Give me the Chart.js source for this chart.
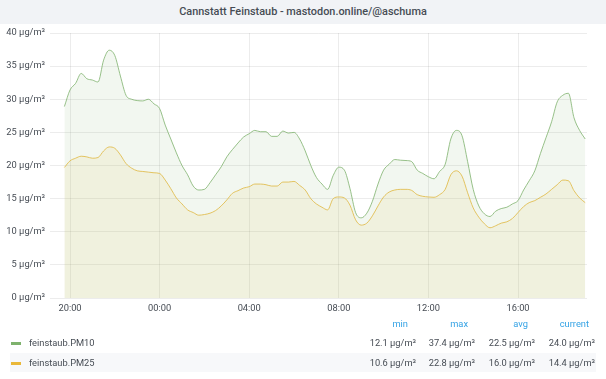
<!DOCTYPE html>
<html>
<head>
<meta charset="utf-8">
<script src="https://cdn.jsdelivr.net/npm/chart.js@4.4.1/dist/chart.umd.min.js"></script>
<style>
  body { margin: 0; width: 606px; height: 379px; overflow: hidden; background: #fff; position: relative; font-family: Roboto, "Noto Sans", sans-serif; }
  #chart { position: absolute; left: 0; top: 0; }
  .title { position: absolute; left: 0; top: 0; width: 606px; height: 24px; line-height: 23px; background: #f1f3f6; color: #464c54; font-size: 10.9px; font-weight: 500; text-align: center; }
  .lg { position: absolute; font-size: 9.3px; color: #464c54; white-space: nowrap; line-height: 12px; }
  .lg.head { color: #33a2e5; }
  .band { position: absolute; left: 10px; width: 586px; height: 19px; background: #f7f8fa; }
  .swatch { position: absolute; width: 10px; height: 3px; }
</style>
</head>
<body>
<canvas id="chart" width="606" height="379"></canvas>
<div class="title">Cannstatt Feinstaub - mastodon.online/@aschuma</div>
<div id="legend"></div>
<script>
// sample times (15 min)
const times = [
  '19:45',
  '20:00', '20:15', '20:30', '20:45',
  '21:00', '21:15', '21:30', '21:45',
  '22:00', '22:15', '22:30', '22:45',
  '23:00', '23:15', '23:30', '23:45',
  '00:00', '00:15', '00:30', '00:45',
  '01:00', '01:15', '01:30', '01:45',
  '02:00', '02:15', '02:30', '02:45',
  '03:00', '03:15', '03:30', '03:45',
  '04:00', '04:15', '04:30', '04:45',
  '05:00', '05:15', '05:30', '05:45',
  '06:00', '06:15', '06:30', '06:45',
  '07:00', '07:15', '07:30', '07:45',
  '08:00', '08:15', '08:30', '08:45',
  '09:00', '09:15', '09:30', '09:45',
  '10:00', '10:15', '10:30', '10:45',
  '11:00', '11:15', '11:30', '11:45',
  '12:00', '12:15', '12:30', '12:45',
  '13:00', '13:15', '13:30', '13:45',
  '14:00', '14:15', '14:30', '14:45',
  '15:00', '15:15', '15:30', '15:45',
  '16:00', '16:15', '16:30', '16:45',
  '17:00', '17:15', '17:30', '17:45',
  '18:00', '18:15', '18:30', '18:45',
  '19:00'
];

const pm10 = [
  28.9,
  31.4, 32.4, 33.9, 33.1,
  32.9, 32.6, 35.9, 37.4,
  36.6, 33.5, 30.6, 30.0,
  29.8, 29.75, 30.0, 29.3,
  28.6, 26.1, 24.0, 21.9,
  20.0, 18.6, 16.9, 16.3,
  16.4, 17.4, 18.6, 19.8,
  21.3, 22.4, 23.4, 24.3,
  24.8, 25.3, 25.1, 25.1,
  24.4, 24.4, 25.2, 24.9,
  25.0, 24.0, 22.2, 20.0,
  18.2, 17.2, 16.4, 18.5,
  19.75, 19.3, 16.5, 12.9,
  12.1, 12.8, 14.6, 17.2,
  19.3, 20.2, 20.9, 20.8,
  20.75, 20.6, 19.3, 18.8,
  18.3, 18.0, 19.1, 20.2,
  24.0, 25.3, 24.5, 20.6,
  16.4, 13.9, 12.7, 12.3,
  13.1, 13.5, 13.7, 14.2,
  14.7, 16.3, 17.7, 19.2,
  21.8, 24.2, 26.6, 29.6,
  30.6, 30.9, 27.2, 25.3,
  24.0
];

const pm25 = [
  19.7,
  20.7, 21.1, 21.4, 21.3,
  21.1, 21.2, 22.2, 22.8,
  22.6, 21.6, 20.3, 19.6,
  19.2, 19.1, 19.0, 18.9,
  18.8, 17.8, 16.5, 15.1,
  14.2, 13.3, 12.9, 12.5,
  12.6, 12.8, 13.2, 13.9,
  14.8, 15.8, 16.2, 16.6,
  16.8, 17.2, 17.2, 17.1,
  16.9, 16.9, 17.5, 17.5,
  17.6, 17.0, 16.3, 15.0,
  14.2, 13.7, 13.3, 15.0,
  15.25, 15.1, 14.0, 11.8,
  11.0, 11.3, 12.4, 13.9,
  15.25, 16.0, 16.3, 16.4,
  16.4, 16.25, 15.6, 15.35,
  15.25, 15.2, 15.6, 16.4,
  18.6, 19.2, 18.4, 15.9,
  13.6, 12.2, 11.2, 10.6,
  10.9, 11.3, 11.5, 12.0,
  12.9, 13.8, 14.4, 14.7,
  15.2, 15.7, 16.4, 17.1,
  17.8, 17.7, 16.2, 15.1,
  14.4
];

const seriesNames = ['feinstaub.PM10', 'feinstaub.PM25'];
const seriesColors = ['#7eb26d', '#eab839'];
const lineColors = ['rgba(126,178,109,0.8)', 'rgba(234,184,57,0.8)'];
const seriesFills = ['rgba(126,178,109,0.1)', 'rgba(234,184,57,0.1)'];

const statHeaders = ['min', 'max', 'avg', 'current'];
const pm10Stats = ['12.1', '37.4', '22.5', '24.0'];
const pm25Stats = ['10.6', '22.8', '16.0', '14.4'];
const unit = 'μg/m³';

const textColor = '#464c54';
const gridColor = 'rgba(0,0,0,0.075)';
const tickFont = { family: 'Roboto', size: 9.3 };

// x axis is hours after 20:00; the first sample is just before it
function toHours(t, i) {
  const [h, m] = t.split(':').map(Number);
  let v = h + m / 60 - 20;
  if (i > 0 && v < 0) v += 24;
  return v;
}

function toPoints(values) {
  return values.map((y, i) => ({ x: toHours(times[i], i), y: y }));
}

function pad(n) {
  return (n < 10 ? '0' : '') + n;
}

new Chart(document.getElementById('chart'), {
  type: 'line',
  data: {
    datasets: [
      { label: seriesNames[0], data: toPoints(pm10), borderColor: lineColors[0], backgroundColor: seriesFills[0],
        fill: 'origin', borderWidth: 1, pointRadius: 0, cubicInterpolationMode: 'monotone' },
      { label: seriesNames[1], data: toPoints(pm25), borderColor: lineColors[1], backgroundColor: seriesFills[1],
        fill: 'origin', borderWidth: 1, pointRadius: 0, cubicInterpolationMode: 'monotone' }
    ]
  },
  options: {
    responsive: false,
    animation: false,
    devicePixelRatio: 1,
    layout: { padding: { top: 33, right: 19, left: 0, bottom: 0 } },
    plugins: { legend: { display: false }, tooltip: { enabled: false } },
    scales: {
      x: {
        type: 'linear',
        min: -0.893,
        max: 23.08,
        afterFit: (s) => { s.height = 81; },
        border: { display: false },
        grid: { color: gridColor, drawTicks: false },
        ticks: {
          stepSize: 4, includeBounds: false, autoSkip: false, maxRotation: 0,
          padding: 5, color: textColor, font: tickFont,
          callback: (v) => pad((20 + v) % 24) + ':00'
        }
      },
      y: {
        min: 0,
        max: 40,
        afterFit: (s) => { s.width = 50; },
        border: { display: false },
        grid: { color: gridColor, drawTicks: false },
        ticks: {
          stepSize: 5, padding: 5, color: textColor, font: tickFont,
          callback: (v) => v + ' ' + unit
        }
      }
    }
  }
});

// table legend below the plot
const legend = document.getElementById('legend');
const colRights = [416, 475, 535, 595];
const headRights = [408, 468, 528, 589];

function addText(text, left, right, top, cls) {
  const d = document.createElement('div');
  d.className = 'lg' + (cls ? ' ' + cls : '');
  d.textContent = text;
  d.style.top = top + 'px';
  if (right != null) d.style.right = (606 - right) + 'px';
  else d.style.left = left + 'px';
  legend.appendChild(d);
}

const band = document.createElement('div');
band.className = 'band';
band.style.top = '353px';
legend.appendChild(band);

statHeaders.forEach((h, i) => addText(h, null, headRights[i], 318, 'head'));

[pm10Stats, pm25Stats].forEach((stats, r) => {
  const top = 337 + r * 20;
  const sw = document.createElement('div');
  sw.className = 'swatch';
  sw.style.left = '11px';
  sw.style.top = (top + 5) + 'px';
  sw.style.background = seriesColors[r];
  legend.appendChild(sw);
  addText(seriesNames[r], 29, null, top);
  stats.forEach((s, i) => addText(s + ' ' + unit, null, colRights[i], top));
});
</script>
</body>
</html>
